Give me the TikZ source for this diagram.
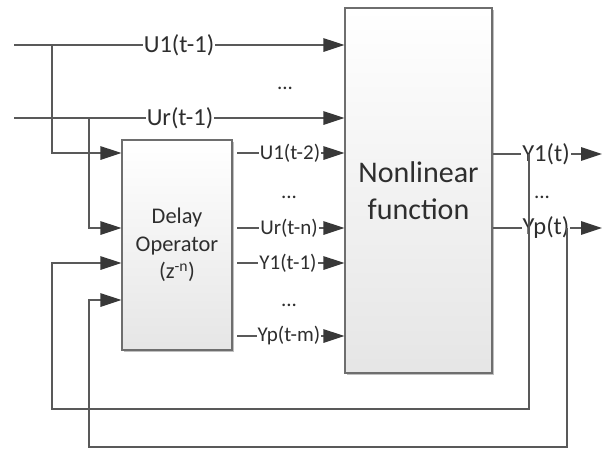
\documentclass[tikz,border=0pt]{standalone}
\usepackage{fontspec}
\setmainfont{Carlito}
\usetikzlibrary{arrows.meta,shadows}
\definecolor{wire}{HTML}{595959}
\definecolor{tipcol}{HTML}{383838}
\definecolor{ink}{HTML}{2E2E2E}
\definecolor{frame}{HTML}{6E6E6E}
\begin{document}
\begin{tikzpicture}[x=1pt,y=-1pt,
  wireline/.style={draw=wire, line width=1.4pt},
  feed/.style={wireline, -{Triangle[length=21pt,width=13.5pt,color=tipcol]}},
  block/.style={draw=frame, line width=1.2pt, top color=white, bottom color=black!10,
    text=ink, align=center,
    drop shadow={shadow xshift=2pt, shadow yshift=-2pt, opacity=0.25, fill=black}},
  biglbl/.style={fill=white, inner sep=1pt, text=ink, font=\fontsize{24.5}{29}\selectfont},
  smalllbl/.style={fill=white, inner sep=1pt, text=ink, font=\fontsize{21}{25}\selectfont},
  dots/.style={inner sep=0pt, text=ink, font=\fontsize{21}{25}\selectfont},
]
\useasboundingbox[fill=white] (0,0) rectangle (604,451);

% blocks
\node[block, minimum width=147pt, minimum height=365pt,
      font=\fontsize{30}{37}\selectfont] (nl) at (418.5,190.5) {Nonlinear\\function};
\node[block, minimum width=110pt, minimum height=210pt,
      font=\fontsize{22.4}{27.5}\selectfont] (dly) at (177,245) {Delay\\Operator\\(z\textsuperscript{-n})};

% external inputs
\coordinate (u1) at (14,45);
\coordinate (ur) at (14,118);
\draw[feed] (u1) -- (u1 -| nl.west);
\draw[feed] (ur) -- (ur -| nl.west);
\node[biglbl] (lu1) at (179,45) {U1(t-1)};
\node[biglbl] (lur) at (180,118) {Ur(t-1)};
\node[dots] (dtop) at (285,88) {...};

% input branches into the delay operator
\coordinate (j1) at (52,45);
\coordinate (k1) at (52,153);
\coordinate (j2) at (89,118);
\coordinate (k2) at (89,228);
\draw[feed] (j1) -- (k1) -- (k1 -| dly.west);
\draw[feed] (j2) -- (k2) -- (k2 -| dly.west);

% delayed signals
\coordinate (r1) at (237,153);
\coordinate (r2) at (237,228);
\coordinate (r3) at (237,263);
\coordinate (r4) at (237,336);
\draw[feed] (r1) -- (r1 -| nl.west);
\draw[feed] (r2) -- (r2 -| nl.west);
\draw[feed] (r3) -- (r3 -| nl.west);
\draw[feed] (r4) -- (r4 -| nl.west);
\node[smalllbl] (ld1) at (290,153) {U1(t-2)};
\node[smalllbl] (ld2) at (289,228) {Ur(t-n)};
\node[smalllbl] (ld3) at (288,263) {Y1(t-1)};
\node[smalllbl] (ld4) at (289,336) {Yp(t-m)};
\node[dots] (dmid1) at (289,197) {...};
\node[dots] (dmid2) at (289,305) {...};

% outputs
\coordinate (e1) at (602,154);
\coordinate (e2) at (602,228);
\draw[feed] (nl.east |- e1) -- (e1);
\draw[feed] (nl.east |- e2) -- (e2);
\node[biglbl] (ly1) at (546,154) {Y1(t)};
\node[biglbl] (lyp) at (546,228) {Yp(t)};
\node[dots] (dout) at (542,197) {...};

% feedback loops
\coordinate (o1) at (529,154);
\coordinate (f1) at (52,409);
\coordinate (g1) at (52,263);
\coordinate (o2) at (567,228);
\coordinate (f2) at (89,447);
\coordinate (g2) at (89,300);
\draw[feed] (o1) |- (f1) -- (g1) -- (g1 -| dly.west);
\draw[feed] (o2) |- (f2) -- (g2) -- (g2 -| dly.west);
\end{tikzpicture}
\end{document}
